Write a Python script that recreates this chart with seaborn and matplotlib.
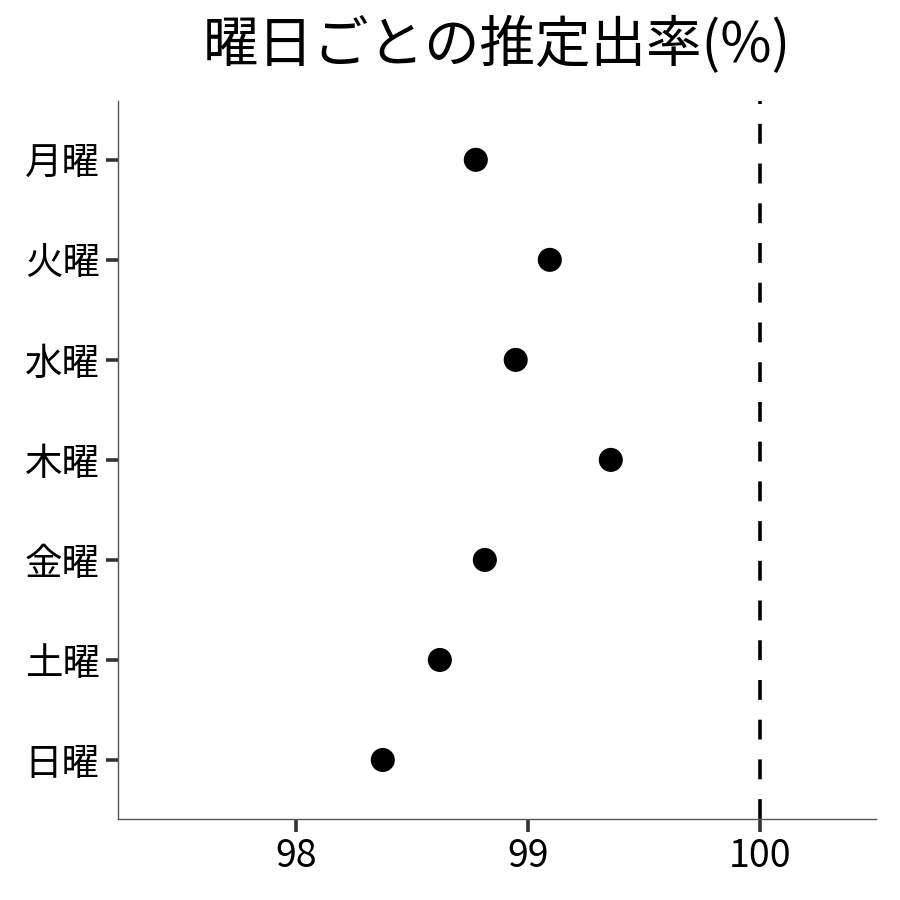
import pandas as pd
import seaborn as sns
import matplotlib.pyplot as plt

# data
days = ["月曜", "火曜", "水曜", "木曜", "金曜", "土曜", "日曜"]
rates = [98.776, 99.095, 98.948, 99.358, 98.815, 98.621, 98.375]
ref_line = 100
x_ticks = [98, 99, 100]

sns.set_style("white")
plt.rcParams['font.family'] = ['Noto Sans CJK JP', 'DejaVu Sans']

df = pd.DataFrame({"day": days, "rate": rates})

fig = plt.figure(figsize=(9, 9), dpi=100)
ax = fig.add_axes([0.131, 0.09, 0.842, 0.798])

sns.scatterplot(data=df, x="rate", y="day", color="black", s=300,
                edgecolor="none", ax=ax, zorder=3)
ax.axvline(ref_line, color="black", linewidth=2.6, linestyle=(0, (5.5, 5.5)))

ax.set_xlim(97.233, 100.5)
ax.set_ylim(6.59, -0.59)
ax.set_xticks(x_ticks)
ax.set_xticklabels([str(t) for t in x_ticks])
ax.set_xlabel("")
ax.set_ylabel("")
ax.set_title("曜日ごとの推定出率(%)", fontsize=40, pad=28, color="black")

for side in ["top", "right"]:
    ax.spines[side].set_visible(False)
for side in ["left", "bottom"]:
    ax.spines[side].set_color("#555555")
    ax.spines[side].set_linewidth(1.0)

ax.tick_params(axis="both", which="major", length=9, width=2.6,
               color="#333333", labelsize=27, labelcolor="black", pad=4,
               bottom=True, left=True)

fig.savefig("out.png", dpi=100)
